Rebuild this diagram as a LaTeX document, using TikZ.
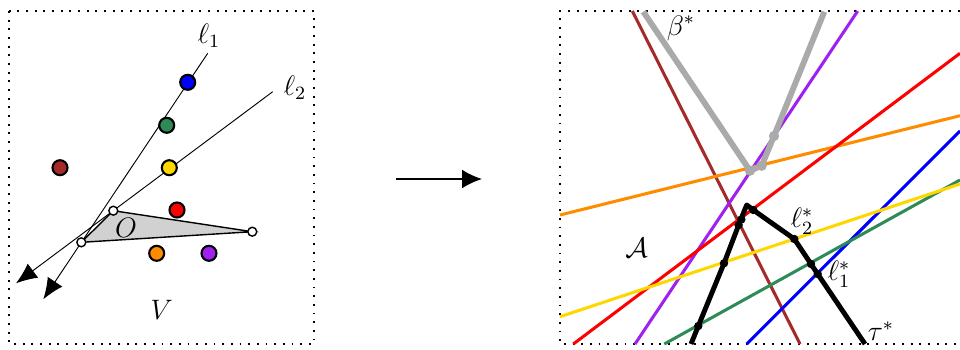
\documentclass[tikz,border=0pt]{standalone}
\usetikzlibrary{arrows.meta}
\definecolor{cbrown}{RGB}{165,42,42}
\definecolor{cgreen}{RGB}{46,139,87}
\definecolor{cyellow}{RGB}{255,215,0}
\definecolor{corange}{RGB}{255,140,0}
\definecolor{cpurple}{RGB}{160,32,240}
\definecolor{cgray}{RGB}{170,170,170}

\begin{document}
\begin{tikzpicture}[x=0.015cm,y=-0.015cm,
  frame/.style={line width=0.75pt,dash pattern=on 0.8pt off 2.9pt},
  pnt/.style={circle,draw,line width=0.9pt,minimum size=6.4pt,inner sep=0pt},
  wpnt/.style={circle,draw,fill=white,line width=0.6pt,minimum size=3.8pt,inner sep=0pt},
  dline/.style={line width=1.3pt},
  bdot/.style={circle,fill=black,minimum size=3.6pt,inner sep=0pt},
  gdot/.style={circle,fill=cgray,minimum size=4.4pt,inner sep=0pt},
  lbl/.style={font=\large},
  tip/.style={-{Latex[length=9pt,width=7.5pt]}}]
\useasboundingbox (0,0) rectangle (960,349);

% primal
\draw[frame] (9,11) rectangle (314,344);
\coordinate (o1) at (113.3,210.7);
\coordinate (o2) at (81.3,242.3);
\coordinate (o3) at (252.3,231.7);
\coordinate (l1s) at (207.7,53.3);
\coordinate (l1e) at (43.3,299.3);
\coordinate (l2s) at (272.7,91.7);
\coordinate (l2e) at (16,283.3);
\filldraw[fill=black!18,line width=0.6pt] (o1) -- (o2) -- (o3) -- cycle;
\draw[tip] (l1s) -- (l1e);
\draw[tip] (l2s) -- (l2e);
\node[pnt,fill=blue] (pblue) at (187.7,82.3) {};
\node[pnt,fill=cgreen] (pgreen) at (166.7,125.3) {};
\node[pnt,fill=cyellow] (pyellow) at (169.3,167.7) {};
\node[pnt,fill=cbrown] (pbrown) at (60,167.7) {};
\node[pnt,fill=red] (pred) at (177,210) {};
\node[pnt,fill=corange] (porange) at (156.7,253.3) {};
\node[pnt,fill=cpurple] (ppurple) at (209,253.3) {};
\node[wpnt] (w1) at (o1) {};
\node[wpnt] (w2) at (o2) {};
\node[wpnt] (w3) at (o3) {};
\node[lbl] (l1) at (209,36) {$\ell_1$};
\node[lbl] (l2) at (295,88) {$\ell_2$};
\node[lbl] (O) at (126,228) {$O$};
\node[lbl] (V) at (161.7,310) {$V$};

% map
\coordinate (m1) at (396,179);
\coordinate (m2) at (482,179);
\draw[line width=0.7pt,-{Latex[length=8.5pt,width=8pt]}] (m1) -- (m2);

% dual
\draw[frame] (960,11) -- (560,11) -- (560,344) -- (960,344);
\draw[dline,cbrown] (632.3,11) -- (800,344);
\draw[dline,cpurple] (857.7,11) -- (635,344);
\draw[dline,corange] (560,215) -- (960,115.7);
\draw[dline,red] (960,53.3) -- (573.3,344);
\draw[dline,blue] (960,131) -- (746.7,344);
\draw[dline,cgreen] (960,180) -- (664.3,344);
\draw[dline,cyellow] (560,316.7) -- (960,184);

\draw[cgray,line width=2.5pt,line join=round] (643.3,11.7) -- (750,170.7) -- (761.7,165.7)
  -- (774,136) -- (824.3,11.7);
\node[gdot] (g1) at (750,170.7) {};
\node[gdot] (g2) at (761.7,165.7) {};
\node[gdot] (g3) at (774,136) {};

\draw[line width=2.1pt,line join=round] (691,344) -- (698.3,326) -- (724,263.3) -- (739.3,223.3)
  -- (746.7,205) -- (753.3,210) -- (794.3,239) -- (811,264) -- (817.7,274) -- (865,344);
\foreach \p [count=\i] in {(698.3,326),(724,263.3),(738.6,225),(741.3,219.5),(753.3,210),
  (794.3,239),(811,264),(817.7,274)}
  \node[bdot] (t\i) at \p {};

\node[lbl] (beta) at (681,28) {$\beta^*$};
\node[lbl] (A) at (636.7,248.3) {$\mathcal{A}$};
\node[lbl] (l2d) at (802,221) {$\ell_2^*$};
\node[lbl] (l1d) at (839,274) {$\ell_1^*$};
\node[lbl] (tau) at (881,331) {$\tau^*$};
\end{tikzpicture}
\end{document}
